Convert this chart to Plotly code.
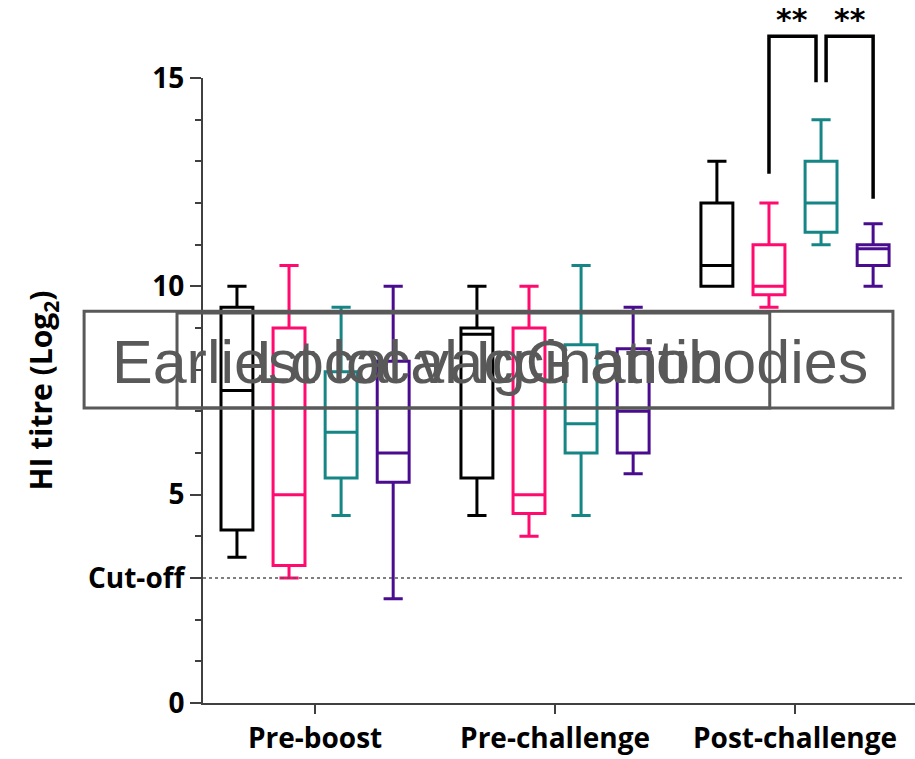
import plotly.graph_objects as go

# ---- data -------------------------------------------------------------
categories = ["Pre-boost", "Pre-challenge", "Post-challenge"]

group_colors = ["#000000", "#FF0A6E", "#168585", "#4A0C8F"]

# five-number summaries per group, one value per time point
lower = [
    [3.5, 4.5, 10.0],
    [3.0, 4.0, 9.5],
    [4.5, 4.5, 11.0],
    [2.5, 5.5, 10.0],
]
q1 = [
    [4.15, 5.4, 10.0],
    [3.3, 4.55, 9.8],
    [5.4, 6.0, 11.3],
    [5.3, 6.0, 10.5],
]
median = [
    [7.5, 8.85, 10.5],
    [5.0, 5.0, 10.0],
    [6.5, 6.7, 12.0],
    [6.0, 7.0, 10.9],
]
q3 = [
    [9.5, 9.0, 12.0],
    [9.0, 9.0, 11.0],
    [7.95, 8.6, 13.0],
    [8.2, 8.5, 11.0],
]
upper = [
    [10.0, 10.0, 13.0],
    [10.5, 10.0, 12.0],
    [9.5, 10.5, 14.0],
    [10.0, 9.5, 11.5],
]

cutoff = 3
y_tickvals = [0, cutoff, 5, 10, 15]
y_ticktext = ["0", "Cut-off", "5", "10", "15"]

# significance brackets in the post-challenge group: (group a, group b, label)
sig_pairs = [(1, 2, "**"), (2, 3, "**")]
bracket_top = 16.0
bracket_legs = [(12.7, 14.9), (14.9, 12.1)]

legend_texts = ["Earliest local IgG antibodies", "Local vaccination"]

# ---- layout helpers ---------------------------------------------------
slot = 0.217          # spacing between boxes inside a time point
box_w = 0.133
y_max = 15


def xpos(cat_idx, grp_idx):
    return cat_idx + (grp_idx - 1.5) * slot


fig = go.Figure()

for g, color in enumerate(group_colors):
    fig.add_trace(go.Box(
        x=[xpos(c, g) for c in range(len(categories))],
        q1=q1[g], median=median[g], q3=q3[g],
        lowerfence=lower[g], upperfence=upper[g],
        width=box_w,
        whiskerwidth=0.6,
        line=dict(color=color, width=3),
        fillcolor="rgba(0,0,0,0)",
        boxpoints=False,
        hoverinfo="skip",
        showlegend=False,
    ))

# dotted cut-off line
fig.add_shape(type="line", xref="paper", yref="y",
              x0=0, x1=0.986, y0=cutoff, y1=cutoff,
              line=dict(color="#555555", width=1.5, dash="dot"))

# significance brackets and stars
post = 2
nudge = 0.021
for (a, b, label), (ya, yb) in zip(sig_pairs, bracket_legs):
    xa = xpos(post, a) + (nudge if a == 2 else 0)
    xb = xpos(post, b) - (nudge if b == 2 else 0)
    top = bracket_top / y_max
    fig.add_shape(type="path", xref="x", yref="paper",
                  path=f"M {xa} {ya / y_max} L {xa} {top} L {xb} {top} L {xb} {yb / y_max}",
                  line=dict(color="#000000", width=3.5))
    fig.add_annotation(x=(xa + xb) / 2, y=(bracket_top + 0.40) / y_max,
                       xref="x", yref="paper", text=label, showarrow=False,
                       yanchor="middle",
                       font=dict(family="DejaVu Sans", size=30, color="#000000", weight="bold"))

# overlaid caption boxes
box_color = "#595959"
fig.add_shape(type="rect", xref="paper", yref="paper",
              x0=-0.167, x1=0.969, y0=0.472, y1=0.627,
              line=dict(color=box_color, width=3), fillcolor="rgba(0,0,0,0)")
fig.add_shape(type="rect", xref="paper", yref="paper",
              x0=-0.0365, x1=0.796, y0=0.472, y1=0.624,
              line=dict(color=box_color, width=3), fillcolor="rgba(0,0,0,0)")
fig.add_annotation(x=-0.1306, y=0.5456, xref="paper", yref="paper",
                   text=legend_texts[0], showarrow=False, xanchor="left", yanchor="middle",
                   font=dict(family="Liberation Sans", size=61, color=box_color))
fig.add_annotation(x=0.7346, y=0.5456, xref="paper", yref="paper",
                   text=legend_texts[1], showarrow=False, xanchor="right", yanchor="middle",
                   font=dict(family="Liberation Sans", size=61, color=box_color))

axis_font = dict(family="Open Sans", size=28, color="#000000", weight="bold")
title_font = dict(family="Open Sans", size=30, color="#000000", weight="bold")

fig.update_layout(
    width=915, height=759,
    margin=dict(l=203, r=0, t=78, b=56),
    plot_bgcolor="white", paper_bgcolor="white",
    boxmode="overlay",
    showlegend=False,
    xaxis=dict(
        range=[-0.467, 2.5],
        tickmode="array",
        tickvals=list(range(len(categories))),
        ticktext=categories,
        ticks="outside", ticklen=9, tickwidth=2, tickcolor="#404040",
        showline=True, linecolor="#404040", linewidth=2,
        showgrid=False, zeroline=False,
        tickfont=axis_font,
    ),
    yaxis=dict(
        range=[0, y_max],
        tickmode="array",
        tickvals=y_tickvals,
        ticktext=y_ticktext,
        ticks="outside", ticklen=11, tickwidth=2, tickcolor="#404040",
        minor=dict(dtick=1, ticks="outside", ticklen=6, tickwidth=2, tickcolor="#404040"),
        showline=True, linecolor="#404040", linewidth=2,
        showgrid=False, zeroline=False,
        tickfont=axis_font,
        title=dict(text="HI titre (Log<sub>2</sub>)", font=title_font, standoff=26),
    ),
)

fig.write_html("out.html")
